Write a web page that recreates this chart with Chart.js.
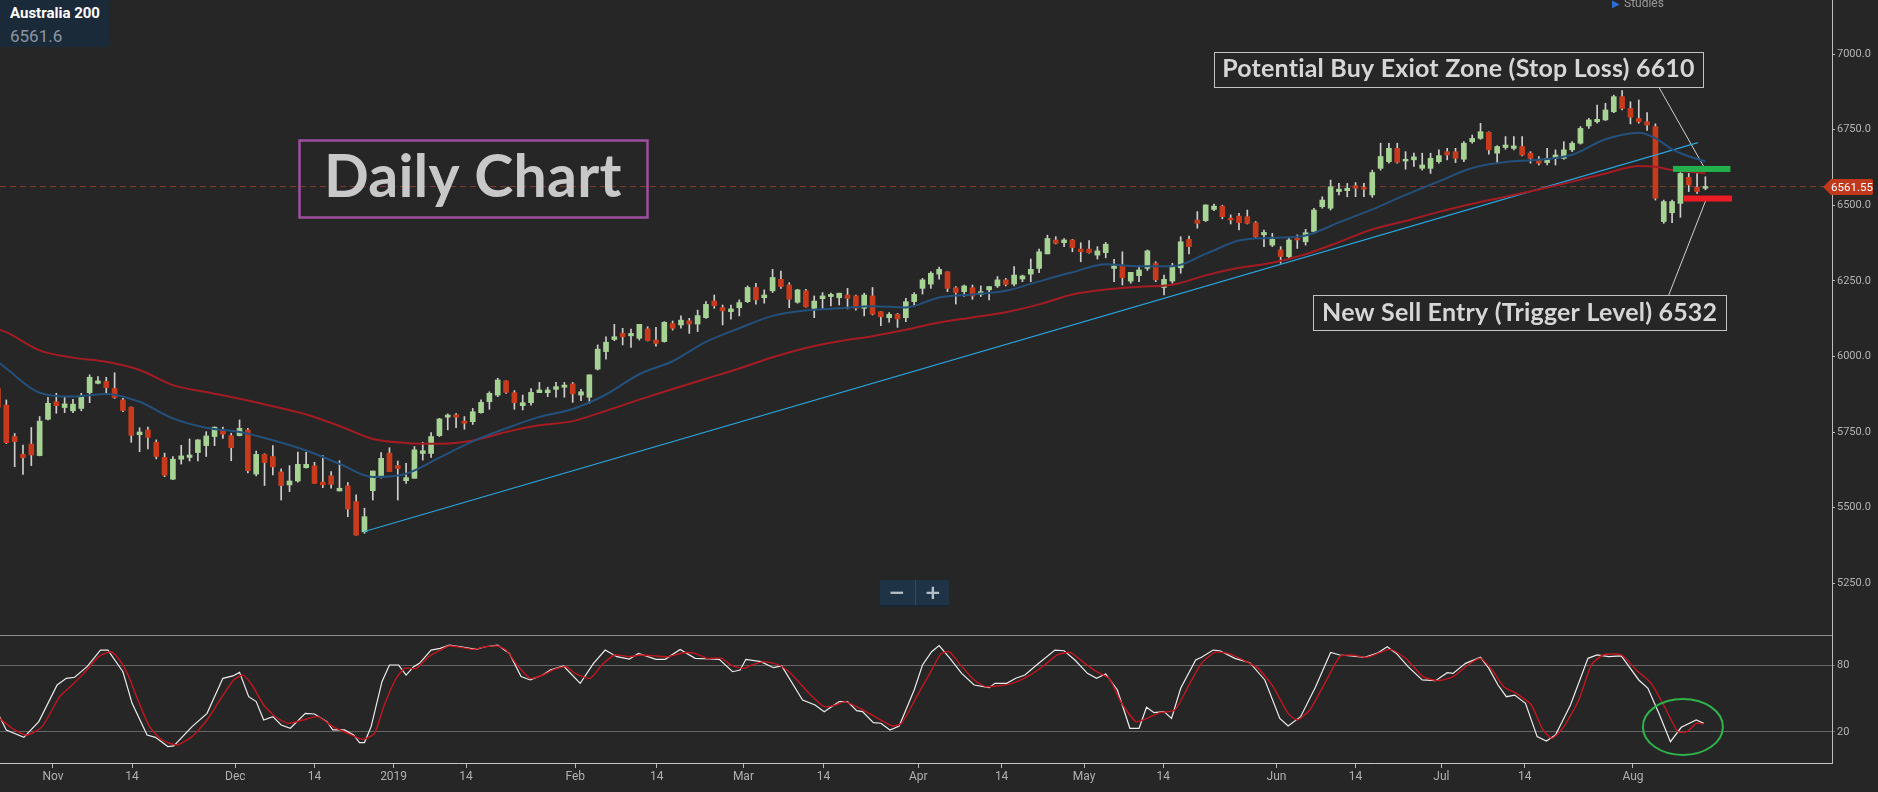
<!DOCTYPE html>
<html>
<head>
<meta charset="utf-8">
<title>Australia 200 - Daily Chart</title>
<script src="https://cdn.jsdelivr.net/npm/chart.js"></script>
<style>
  body { margin: 0; background: #262626; }
  #wrap { position: relative; width: 1878px; height: 792px; overflow: hidden; background: #262626; }
  #chart { position: absolute; left: 0; top: 0; }
  #info { position: absolute; left: 0; top: 0; width: 110px; height: 47px; background: #1b2a38; font-family: Roboto, sans-serif; }
  #info .sym { position: absolute; left: 10px; top: 6px; font-size: 15px; font-weight: bold; color: #ffffff; line-height: 1; }
  #info .last { position: absolute; left: 10px; top: 28px; font-size: 17px; color: #8b96a1; line-height: 1; }
  #studies { position: absolute; left: 1612px; top: -4px; font: 12px Roboto, sans-serif; color: #9a9a9a; }
  #studies span { color: #2d6ed8; font-size: 10px; margin-right: 4px; }
  #zoomctl { position: absolute; left: 880px; top: 580px; width: 69px; height: 25px; background: #1e3345; box-shadow: 0 2px 0 #1a2733; }
  #zoomctl span { position: absolute; top: 0; width: 34px; height: 25px; line-height: 24px; text-align: center; font: bold 20px "DejaVu Sans", sans-serif; color: #b4bec8; }
  #zoomctl .minus { left: 0; }
  #zoomctl .plus { left: 35px; border-left: 1px solid #34495c; }
</style>
</head>
<body>
<div id="wrap">
  <canvas id="chart" width="1878" height="792"></canvas>
  <div id="info"><div class="sym">Australia 200</div><div class="last">6561.6</div></div>
  <div id="studies"><span>&#9654;</span>Studies</div>
  <div id="zoomctl"><span class="minus">&minus;</span><span class="plus">+</span></div>
</div>
<script>
// daily candles, first one is cut by the left edge (bar index -1)
const firstBar = -1;
const opens = [5894,5839,5735,5676,5710,5672,5792,5850,5831,5820,
  5828,5880,5911,5917,5894,5856,5832,5741,5757,5716,
  5666,5594,5660,5666,5682,5705,5735,5757,5738,5738,
  5757,5611,5676,5669,5618,5575,5588,5632,5638,5584,
  5605,5555,5572,5520,5420,5556,5605,5680,5639,5589,
  5597,5679,5679,5738,5799,5807,5786,5784,5814,5850,
  5872,5919,5880,5837,5847,5880,5880,5891,5898,5909,
  5872,5865,5958,6016,6056,6076,6068,6060,6091,6054,
  6049,6109,6104,6118,6107,6128,6183,6161,6148,6161,
  6181,6228,6194,6217,6255,6236,6179,6217,6159,6191,
  6198,6194,6203,6200,6159,6200,6148,6128,6139,6128,
  6181,6225,6239,6272,6280,6227,6214,6227,6205,6220,
  6233,6253,6239,6256,6272,6291,6339,6385,6376,6385,
  6355,6355,6335,6343,6291,6299,6249,6267,6291,6308,
  6228,6249,6293,6387,6451,6449,6486,6497,6457,6464,
  6462,6442,6402,6368,6352,6330,6391,6379,6413,6495,
  6490,6545,6548,6564,6559,6534,6622,6644,6688,6646,
  6650,6622,6622,6644,6677,6677,6652,6710,6721,6741,
  6672,6691,6688,6694,6672,6652,6641,6655,6655,6683,
  6705,6762,6776,6782,6809,6859,6820,6787,6776,6760,
  6446,6475,6506,6592,6559,6556];
const highs = [5902,5856,5745,5707,5765,5801,5865,5878,5867,5858,
  5878,5939,5933,5931,5946,5861,5833,5764,5766,5724,
  5680,5669,5706,5727,5725,5751,5767,5766,5746,5790,
  5762,5687,5678,5705,5628,5639,5684,5683,5650,5672,
  5619,5655,5583,5542,5498,5621,5682,5698,5654,5646,
  5702,5716,5748,5795,5810,5812,5801,5828,5856,5883,
  5928,5919,5887,5872,5894,5914,5898,5914,5914,5914,
  5891,5939,6038,6065,6106,6093,6090,6106,6098,6096,
  6115,6117,6134,6126,6153,6181,6203,6170,6170,6187,
  6233,6242,6220,6288,6282,6244,6222,6222,6200,6211,
  6209,6209,6225,6203,6209,6228,6148,6145,6142,6192,
  6211,6258,6280,6295,6280,6231,6236,6236,6233,6231,
  6264,6258,6297,6269,6322,6355,6401,6396,6390,6387,
  6376,6383,6363,6377,6321,6346,6278,6299,6352,6313,
  6269,6308,6396,6398,6479,6501,6504,6500,6468,6473,
  6484,6446,6418,6407,6363,6391,6402,6420,6490,6528,
  6583,6572,6572,6575,6572,6616,6705,6705,6705,6677,
  6672,6672,6672,6683,6688,6688,6710,6732,6771,6743,
  6697,6727,6727,6727,6677,6661,6688,6683,6710,6710,
  6760,6787,6831,6837,6864,6879,6842,6848,6806,6769,
  6517,6517,6608,6605,6605,6594];
const lows = [5826,5712,5635,5610,5639,5671,5790,5812,5814,5814,
  5820,5847,5909,5880,5861,5817,5716,5685,5694,5661,
  5602,5592,5644,5654,5654,5669,5705,5729,5655,5737,
  5615,5605,5573,5608,5525,5553,5584,5630,5580,5566,
  5564,5555,5470,5409,5415,5525,5597,5619,5525,5580,
  5597,5657,5666,5735,5757,5764,5759,5775,5812,5825,
  5867,5878,5825,5823,5839,5880,5867,5865,5865,5848,
  5854,5845,5955,5991,6052,6038,6030,6054,6051,6034,
  6047,6087,6093,6076,6082,6126,6159,6104,6123,6134,
  6178,6173,6176,6211,6225,6161,6176,6163,6128,6156,
  6167,6170,6157,6153,6134,6137,6102,6113,6096,6115,
  6167,6206,6225,6255,6214,6173,6198,6189,6198,6187,
  6228,6233,6233,6247,6247,6277,6339,6372,6363,6346,
  6313,6341,6322,6326,6247,6236,6242,6247,6284,6247,
  6203,6242,6275,6339,6424,6446,6482,6455,6438,6418,
  6438,6391,6363,6363,6308,6325,6357,6368,6407,6490,
  6484,6534,6528,6528,6528,6526,6616,6639,6639,6619,
  6628,6616,6605,6639,6650,6641,6644,6705,6718,6669,
  6639,6685,6683,6663,6639,6633,6633,6633,6652,6677,
  6702,6754,6771,6780,6806,6815,6769,6771,6747,6517,
  6440,6442,6460,6545,6539,6551];
const closes = [5832,5715,5718,5665,5674,5786,5845,5837,5843,5842,
  5867,5931,5919,5897,5864,5821,5739,5750,5732,5669,
  5607,5660,5671,5674,5724,5737,5766,5743,5698,5762,
  5622,5676,5649,5635,5573,5588,5643,5643,5580,5575,
  5577,5564,5495,5409,5470,5621,5663,5619,5629,5599,
  5691,5688,5735,5793,5806,5799,5779,5817,5848,5878,
  5922,5881,5847,5847,5881,5889,5889,5900,5905,5876,
  5883,5939,6024,6047,6065,6065,6076,6106,6052,6043,
  6113,6093,6120,6107,6135,6172,6168,6151,6157,6178,
  6228,6187,6203,6261,6231,6189,6220,6164,6183,6200,
  6205,6209,6192,6159,6203,6140,6131,6139,6124,6181,
  6205,6253,6275,6288,6225,6211,6233,6200,6214,6231,
  6253,6238,6269,6266,6288,6346,6390,6374,6385,6360,
  6346,6343,6349,6371,6299,6260,6278,6286,6349,6253,
  6255,6299,6379,6363,6440,6501,6497,6462,6451,6442,
  6440,6396,6410,6387,6330,6385,6385,6409,6484,6517,
  6561,6553,6556,6556,6553,6608,6661,6688,6642,6652,
  6660,6633,6655,6664,6666,6655,6705,6721,6743,6683,
  6694,6699,6696,6666,6655,6639,6655,6666,6683,6705,
  6754,6782,6784,6815,6859,6820,6791,6776,6765,6523,
  6512,6512,6605,6567,6545,6562];

// moving averages (bar index -> price)
const maBars = [-1,0,4,8,12,16,20,24,28,32,36,40,44,48,52,56,60,64,68,72,76,80,84,88,92,96,
  100,104,108,112,116,120,124,128,132,136,140,144,148,152,156,160,164,168,172,176,180,184,188,192,196,198,200,202,204];
const maBlue = [5982,5960,5880,5867,5876,5850,5795,5764,5750,5723,5689,5645,5601,5612,5665,5719,5762,5800,5826,5874,5941,5984,6048,6093,6134,6152,
  6159,6166,6162,6195,6205,6217,6248,6278,6305,6298,6298,6339,6383,6392,6400,6443,6486,6534,6579,6623,6643,6650,6667,6718,6740,6722,6685,6662,6645];
const maRed = [6090,6080,6020,5996,5982,5955,5905,5882,5860,5835,5808,5770,5727,5714,5711,5722,5750,5772,5786,5820,5857,5892,5926,5960,5997,6028,
  6050,6067,6088,6112,6129,6146,6172,6205,6221,6230,6237,6268,6293,6310,6338,6378,6420,6448,6478,6505,6528,6552,6578,6605,6630,6627,6616,6611,6606];

// rising trend line from the December low
const trendBars = [42.9, 203.1];
const trendPrices = [5420, 6707];

const lastPrice = 6561.55;
const stopLevel = 6610;
const triggerLevel = 6532;
const stopZone = [200.1, 207.0];
const triggerZone = [201.4, 207.2];
const stopCalloutBars = [198.4, 203.9];
const stopCalloutPrices = [6891, 6623];
const triggerCalloutBars = [199.6, 204.2];
const triggerCalloutPrices = [6203, 6527];

// stochastic %K (white) and %D (red), [bar, value]
const stochK = [[-0.8,33.7],[0,21.8],[2.1,15.2],[3.9,29.3],[6.1,62.1],[7.2,68.1],[8.2,69],[9.7,78.5],[11.3,93.4],[12.2,93.4],[14,74],[15.1,45.7],[16.9,17.3],[17.9,15.2],[19.4,6.9],[20.1,7.5],[22.3,24.8],[24.1,36.7],[26,68.1],[27.2,70.2],[28,73.4],[29.1,51.6],[30,47.2],[30.9,30.7],[32,33.7],[33,26.3],[34.1,23.3],[35.9,36.7],[37,36.1],[38.5,29.3],[39.2,21.8],[40.6,21.8],[41.7,17.3],[42.4,10.5],[43,10.5],[43.8,24.8],[45.1,65.1],[46,80],[47.1,80],[48,71],[48.9,78.5],[49.6,81.5],[51,93.4],[52.1,94.9],[53.2,97.9],[54.6,96.4],[56.4,94],[57.5,96.4],[59,97.9],[60.4,90.4],[61.8,69.6],[62.9,66.6],[64.4,71],[65.3,75.5],[66.9,79.1],[68.9,63.6],[70.5,81.5],[71.9,93.4],[73.3,87.5],[74.8,85.4],[75.9,90.4],[78,85.1],[79.1,85.1],[80.9,94],[82.7,86],[84.5,85.4],[85.6,85.1],[87.2,74],[88.1,75.5],[88.8,85.1],[90.6,83],[92.1,77.6],[93.1,79.1],[95.6,48.7],[97.1,44.2],[98.2,38.2],[100,47.2],[101,47.2],[102.1,39.1],[102.8,38.2],[104.1,28.4],[105,27.8],[106.1,21.8],[107.2,25.4],[109,57.6],[110,80],[111.1,91.9],[112,97.5],[113.3,86],[114.7,72.5],[116.2,62.1],[118,59.7],[118.7,63.6],[120.1,63.6],[121.2,68.1],[122.3,71],[123.7,80],[125.9,93.4],[127,92.8],[128.3,84.5],[129.8,72.5],[130.9,68.1],[132,72],[133.4,57.6],[134.9,23.3],[136,23.3],[136.9,42.1],[137.8,37.3],[139,38.2],[139.9,32.2],[141,59.1],[142.8,84.5],[143.5,86.9],[144.9,93.4],[145.7,92.8],[147.5,86],[149.3,82.1],[151.1,66.6],[152.9,32.2],[153.9,25.4],[155.4,33.7],[157.2,60.6],[159,91.3],[160.1,89],[161.5,88.1],[163.1,86.9],[164.7,91],[165.8,96.4],[166.9,90.4],[168.3,78.5],[170,66.6],[171.6,66],[173,73.1],[173.7,72.5],[175.2,81.5],[177,86.9],[178,77],[179.1,62.1],[180.1,51.6],[181.1,53.1],[182.4,45.7],[183.8,15.8],[184.9,11.9],[186,17.3],[187.8,44.2],[189.9,86],[191,89],[192.4,87.5],[193.9,88.1],[196,66.6],[197.1,59.1],[198.5,35.2],[199.8,11.3],[201.1,24.2],[202.9,30.8],[203.8,27.8]];
const stochD = [[-0.8,32.2],[0.7,23.3],[2.5,17.3],[4.3,24.8],[6.4,51.6],[7.9,62.1],[9.3,72.5],[11.1,87.5],[12.6,91.9],[13.6,84.5],[14.7,69.6],[15.8,48.7],[17.2,24.8],[18.7,12.8],[20.5,8.4],[22.3,15.8],[24.1,30.7],[25.9,51.6],[27.3,66.6],[28.4,71],[29.5,62.1],[30.9,44.2],[32.3,33.7],[33.8,27.8],[35.6,30.7],[37.4,33.7],[39.2,24.8],[41,18.8],[42.8,13.4],[44.2,18.8],[45.3,42.7],[46.7,66.6],[47.8,77],[49.2,77],[50.7,87.5],[52.1,93.4],[53.2,97],[54.6,95.8],[56.1,94],[57.5,96.4],[59,97],[60,93.4],[61.5,78.5],[62.9,68.1],[64.4,71],[65.8,76.1],[67.2,78.5],[68.3,72.5],[70.1,68.1],[71.5,80],[73,89],[74.8,87.5],[76.2,89],[78,88.1],[79.5,87.5],[81.3,91],[82.7,90.4],[84.1,86],[85.9,86],[87,80],[88.5,77],[89.5,80],[91,83],[92.8,80],[94.2,72.5],[96.4,54.6],[98.2,42.7],[99.6,44.2],[100.7,47.2],[102.5,41.2],[104.3,33.7],[106.4,25.4],[107.5,27.8],[109.3,51.6],[111.1,75.5],[112.2,90],[113.2,92],[114.4,81.5],[116.2,66.6],[117.6,60.6],[119,61.2],[120.8,63.6],[122.6,69.6],[124.4,78.5],[126.2,89],[127.7,91.3],[129.5,81.5],[130.9,74],[132.4,68.1],[133.8,47.2],[135.6,29.3],[136.7,31.3],[138.5,37.3],[140.3,39.7],[142.1,63.6],[143.5,81.5],[145.1,91.3],[146.7,90.4],[148.5,84.5],[150.3,77],[152.1,60.6],[153.9,36.7],[155,30.7],[156.5,39.7],[158.3,63.6],[160.1,87.5],[161.5,89],[163.3,86.9],[164.7,90.4],[166.2,94],[168,86],[170.1,69.6],[171.9,66],[173.7,69.6],[175.5,80],[177,86],[178.4,75.5],[179.8,60.6],[181.3,54.6],[183.1,44.2],[184.5,21.8],[185.6,14.3],[187,24.8],[188.8,48.7],[190.3,80],[191.7,89],[193.9,89],[195.7,75.5],[197.5,63.6],[199.3,39.7],[200.7,20.3],[201.8,20.3],[202.9,27.8],[203.8,27.2]];

// axes
const barRange = [-0.76, 219.2];
const priceRange = [5078.7, 7178.6];
const stochRange = [-7.8, 106.9];
const priceTicks = [5250, 5500, 5750, 6000, 6250, 6500, 6750, 7000];
const stochTicks = [20, 80];
const dateTickBars = [5.6, 15.1, 27.5, 37, 46.5, 55.2, 68.3, 78.1, 88.5, 98.1, 109.5, 119.5, 129.4, 138.9, 152.5, 162, 172.3, 182.3, 195.3];
const dateTickText = ['Nov', '14', 'Dec', '14', '2019', '14', 'Feb', '14', 'Mar', '14', 'Apr', '14', 'May', '14', 'Jun', '14', 'Jul', '14', 'Aug'];

// text callouts, placed in bar / price units
const callouts = [
  { text: 'Daily Chart', bar: 56.0, price: 6588.3, font: 'bold 59px Lato', h: 77, padX: 25, base: 18.5, color: '#c8c8c8', border: '#9f4fa0', lw: 2.5 },
  { text: 'Potential Buy Exiot Zone (Stop Loss) 6610', bar: 174.35, price: 6948.8, font: 'bold 25px Lato', h: 35, padX: 8, base: 7.5, color: '#d6d6d6', border: '#c4c4c4', lw: 1 },
  { text: 'New Sell Entry (Trigger Level) 6532', bar: 181.7, price: 6145, font: 'bold 25px Lato', h: 35, padX: 9, base: 8, color: '#d6d6d6', border: '#c4c4c4', lw: 1 }
];
const circleAt = [201.3, 24.5];

const UP = '#a6d394';
const DOWN = '#c73a1c';

function pts(xs, ys) {
  return xs.map((x, i) => ({ x: x, y: ys[i] }));
}
function pairPts(list) {
  return list.map(p => ({ x: p[0], y: p[1] }));
}

const bars = opens.map((_, i) => firstBar + i);
const bodyData = bars.map((b, i) => ({ x: b, y: [opens[i], closes[i]] }));
const wickData = bars.map((b, i) => ({ x: b, y: [lows[i], highs[i]] }));
const bodyColors = bars.map((b, i) => closes[i] >= opens[i] ? UP : DOWN);

const overlays = {
  id: 'overlays',
  afterDatasetsDraw(chart) {
    const { ctx, chartArea } = chart;
    const x = chart.scales.x, y = chart.scales.y, y2 = chart.scales.y2;
    ctx.save();

    // line between the two panes
    const sepY = Math.round(y2.top) + 0.5;
    ctx.strokeStyle = '#8c8c8c';
    ctx.lineWidth = 1;
    ctx.beginPath();
    ctx.moveTo(chartArea.left, sepY);
    ctx.lineTo(chartArea.right, sepY);
    ctx.stroke();

    // stop / trigger zones
    const sx0 = x.getPixelForValue(stopZone[0]), sx1 = x.getPixelForValue(stopZone[1]);
    ctx.fillStyle = '#22b14c';
    ctx.fillRect(sx0, y.getPixelForValue(stopLevel) - 6, sx1 - sx0, 6);
    const tx0 = x.getPixelForValue(triggerZone[0]), tx1 = x.getPixelForValue(triggerZone[1]);
    ctx.fillStyle = '#ec1c24';
    ctx.fillRect(tx0, y.getPixelForValue(triggerLevel), tx1 - tx0, 6);

    // callout boxes (small letter spacing keeps Lato from joining "ti")
    callouts.forEach(c => {
      ctx.font = c.font;
      ctx.letterSpacing = '0.2px';
      const w = ctx.measureText(c.text).width + 2 * c.padX;
      const cx = x.getPixelForValue(c.bar), cy = y.getPixelForValue(c.price);
      ctx.strokeStyle = c.border;
      ctx.lineWidth = c.lw;
      ctx.strokeRect(Math.round(cx - w / 2) + 0.5, Math.round(cy - c.h / 2) + 0.5, Math.round(w), c.h);
      ctx.fillStyle = c.color;
      ctx.textAlign = 'center';
      ctx.textBaseline = 'alphabetic';
      ctx.fillText(c.text, cx, cy + c.base);
    });
    ctx.letterSpacing = '0px';

    // green ring on the oscillator
    ctx.strokeStyle = '#2fb34a';
    ctx.lineWidth = 2;
    ctx.beginPath();
    ctx.ellipse(x.getPixelForValue(circleAt[0]), y2.getPixelForValue(circleAt[1]), 40, 28, 0, 0, Math.PI * 2);
    ctx.stroke();

    // last price tag on the axis
    const py = Math.round(y.getPixelForValue(lastPrice));
    const ax = y.left;
    ctx.fillStyle = '#c0391d';
    ctx.beginPath();
    ctx.moveTo(ax - 9, py);
    ctx.lineTo(ax - 1, py - 8);
    ctx.lineTo(ax + 39, py - 8);
    ctx.quadraticCurveTo(ax + 41, py - 8, ax + 41, py - 6);
    ctx.lineTo(ax + 41, py + 6);
    ctx.quadraticCurveTo(ax + 41, py + 8, ax + 39, py + 8);
    ctx.lineTo(ax - 1, py + 8);
    ctx.closePath();
    ctx.fill();
    ctx.fillStyle = '#ffffff';
    ctx.font = '11.5px Roboto';
    ctx.textAlign = 'center';
    ctx.textBaseline = 'middle';
    ctx.fillText(lastPrice.toFixed(2), ax + 20, py + 1);

    ctx.restore();
  }
};

Chart.defaults.font.family = 'Roboto, "Liberation Sans", sans-serif';

function lineSet(data, color, width, extra) {
  return Object.assign({
    type: 'line', data: data, borderColor: color, borderWidth: width,
    pointRadius: 0, fill: false, yAxisID: 'y', order: 1
  }, extra || {});
}

new Chart(document.getElementById('chart'), {
  type: 'bar',
  data: {
    datasets: [
      lineSet(pts(maBars, maBlue), '#24507c', 2, { cubicInterpolationMode: 'monotone' }),
      lineSet(pts(maBars, maRed), '#a41c23', 2, { cubicInterpolationMode: 'monotone' }),
      lineSet(pts(trendBars, trendPrices), '#2aa4dd', 1.2),
      lineSet(pts(barRange, [lastPrice, lastPrice]), '#823b2f', 1, { borderDash: [6, 4], order: 6 }),
      lineSet(pts(stopCalloutBars, stopCalloutPrices), '#d0d0d0', 1),
      lineSet(pts(triggerCalloutBars, triggerCalloutPrices), '#d0d0d0', 1),
      {
        type: 'bar', data: bodyData, backgroundColor: bodyColors, barThickness: 5,
        minBarLength: 1, grouped: false, yAxisID: 'y', order: 3
      },
      {
        type: 'bar', data: wickData, backgroundColor: '#cfcfcf', barThickness: 1,
        grouped: false, yAxisID: 'y', order: 4
      },
      lineSet(pairPts(stochD), '#c3161f', 1.4, { yAxisID: 'y2', tension: 0.2 }),
      lineSet(pairPts(stochK), '#ececec', 1.2, { yAxisID: 'y2' })
    ]
  },
  options: {
    responsive: false,
    animation: false,
    devicePixelRatio: 1,
    events: [],
    layout: { padding: 0 },
    plugins: { legend: { display: false }, tooltip: { enabled: false } },
    scales: {
      x: {
        type: 'linear', min: barRange[0], max: barRange[1], offset: false,
        grid: { display: true, drawOnChartArea: false, drawTicks: true, tickLength: 5, color: '#b8b8b8', offset: false },
        border: { display: true, color: '#c8c8c8' },
        ticks: { autoSkip: false, maxRotation: 0, padding: 2, color: '#b0b0b0', font: { size: 12 },
          callback: (v, i) => dateTickText[i] },
        afterBuildTicks: s => { s.ticks = dateTickBars.map(v => ({ value: v })); },
        afterFit: s => { s.height = 29; s.paddingLeft = 0; s.paddingRight = 0; }
      },
      y: {
        type: 'linear', position: 'right', stack: 'panes', stackWeight: 635,
        min: priceRange[0], max: priceRange[1],
        grid: { drawOnChartArea: false, drawTicks: true, tickLength: 3, color: '#bdbdbd' },
        border: { display: true, color: '#bdbdbd' },
        ticks: { padding: 2, color: '#b4b4b4', font: { size: 11 }, callback: v => v.toFixed(1) },
        afterBuildTicks: s => { s.ticks = priceTicks.map(v => ({ value: v })); },
        afterFit: s => { s.width = 46; s.paddingTop = 0; s.paddingBottom = 0; }
      },
      y2: {
        type: 'linear', position: 'right', stack: 'panes', stackWeight: 128,
        min: stochRange[0], max: stochRange[1],
        grid: { drawOnChartArea: true, drawTicks: true, tickLength: 3, color: '#666666' },
        border: { display: true, color: '#bdbdbd' },
        ticks: { padding: 2, color: '#b4b4b4', font: { size: 11 } },
        afterBuildTicks: s => { s.ticks = stochTicks.map(v => ({ value: v })); },
        afterFit: s => { s.width = 46; s.paddingTop = 0; s.paddingBottom = 0; }
      }
    }
  },
  plugins: [overlays]
});
</script>
</body>
</html>
